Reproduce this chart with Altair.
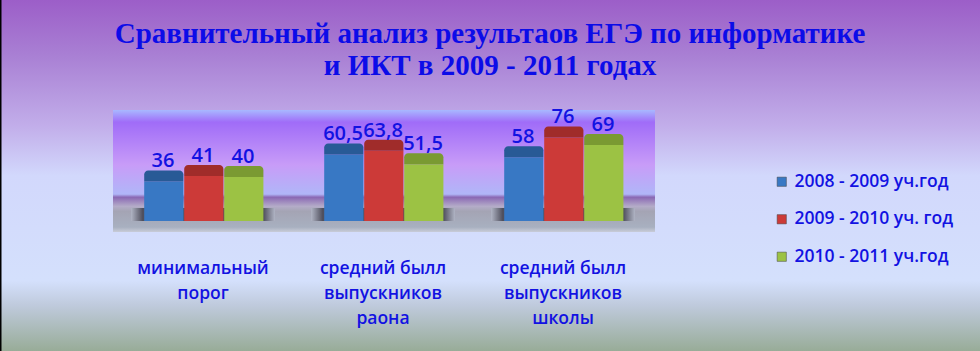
import altair as alt
import pandas as pd

categories = ["минимальный\nпорог", "средний былл\nвыпускников\nраона", "средний былл\nвыпускников\nшколы"]
series = ["2008 - 2009 уч.год", "2009 - 2010 уч. год", "2010 - 2011 уч.год"]
values_2009 = [36, 60.5, 58]
values_2010 = [41, 63.8, 76]
values_2011 = [40, 51.5, 69]
front_colors = ["#3878c4", "#cc3a38", "#9cc244"]
cap_colors = ["#285a96", "#a02c2a", "#7a9a32"]
title_lines = ["Сравнительный анализ результаов ЕГЭ по информатике", "и ИКТ в 2009 - 2011 годах"]

rows = []
for s, vals, cc in zip(series, [values_2009, values_2010, values_2011], cap_colors):
    for c, v in zip(categories, vals):
        rows.append({"cat": c, "series": s, "value": v, "cap": cc})
df = pd.DataFrame(rows)
one = pd.DataFrame({"k": [0]})
cats_df = pd.DataFrame({"cat": categories})

W, H = 540, 110
PAD = {"left": 113, "top": 111, "right": 980 - 113 - W, "bottom": 351 - 111 - H}

BLUE = "#1212e2"

x_enc = alt.X("cat:N", sort=categories,
              scale=alt.Scale(domain=categories, paddingInner=1/3, paddingOuter=1/6),
              axis=alt.Axis(title=None, domain=False, ticks=False, labelAngle=0, zindex=2,
                            labelExpr="split(datum.label, '\\n')",
                            labelFont="Open Sans", labelFontSize=17.5, labelFontWeight=600,
                            labelColor=BLUE, labelLineHeight=25, labelPadding=47,
                            labelBaseline="middle", labelLimit=0))
y_scale = alt.Scale(domain=[0, 100], nice=False)
xoff = alt.XOffset("series:N", sort=series, scale=alt.Scale(domain=series, paddingInner=0, paddingOuter=0))

bg = alt.Chart(one).mark_rect(fill=alt.Gradient(
    gradient="linear", x1=0, x2=0, y1=0, y2=1,
    stops=[alt.GradientStop(color="#9c5ec8", offset=0),
           alt.GradientStop(color="#a980d4", offset=0.16),
           alt.GradientStop(color="#c2aeea", offset=0.36),
           alt.GradientStop(color="#d2d8fc", offset=0.5),
           alt.GradientStop(color="#d4e0fc", offset=0.8),
           alt.GradientStop(color="#bfcadc", offset=0.87),
           alt.GradientStop(color="#98ac98", offset=1)])).encode(
    x=alt.value(-PAD["left"]), x2=alt.value(W + PAD["right"]),
    y=alt.value(-PAD["top"]), y2=alt.value(H + PAD["bottom"]))

border = alt.Chart(one).mark_rect(fill="#000000").encode(
    x=alt.value(-PAD["left"]), x2=alt.value(-PAD["left"] + 1.5),
    y=alt.value(-PAD["top"]), y2=alt.value(H + PAD["bottom"]))

wall = alt.Chart(one).mark_rect(fill=alt.Gradient(
    gradient="linear", x1=0, x2=0, y1=0, y2=1,
    stops=[alt.GradientStop(color="#a8b8ff", offset=0),
           alt.GradientStop(color="#a06cf8", offset=0.1),
           alt.GradientStop(color="#c89cf8", offset=0.45),
           alt.GradientStop(color="#b0b6f8", offset=0.69),
           alt.GradientStop(color="#8a68b4", offset=0.715),
           alt.GradientStop(color="#b4acc8", offset=0.79),
           alt.GradientStop(color="#a4a4b4", offset=0.83),
           alt.GradientStop(color="#a8b0c0", offset=0.96),
           alt.GradientStop(color="#c8ccd8", offset=1)])).encode(
    x=alt.value(0), x2=alt.value(W + 2), y=alt.value(-1), y2=alt.value(H + 11))

shadow = alt.Chart(cats_df).mark_bar(width=alt.RelativeBandSize(1.2), fill=alt.Gradient(
    gradient="linear", x1=0, x2=1, y1=0, y2=0,
    stops=[alt.GradientStop(color="#b0b4c4", offset=0),
           alt.GradientStop(color="#50505e", offset=0.08),
           alt.GradientStop(color="#50505e", offset=0.92),
           alt.GradientStop(color="#b0b4c4", offset=1)])).encode(
    x=x_enc, y=alt.value(H - 13), y2=alt.value(H))

base = alt.Chart(df)

front = base.mark_bar(width=alt.RelativeBandSize(0.98)).encode(
    x=x_enc, xOffset=xoff,
    y=alt.Y("value:Q", scale=y_scale, axis=None),
    color=alt.Color("series:N", sort=series,
                    scale=alt.Scale(domain=series, range=front_colors),
                    legend=alt.Legend(title=None, orient="none", legendX=660, legendY=62,
                                      symbolType="square", symbolSize=85,
                                      symbolStrokeColor="#404040", symbolStrokeWidth=0.5,
                                      labelFont="Open Sans", labelFontSize=17.5, labelFontWeight=600,
                                      labelColor=BLUE, rowPadding=18.5, labelLimit=0,
                                      labelOffset=4, zindex=2)))

caps = base.transform_calculate(top="datum.value + 10").mark_bar(
    width=alt.RelativeBandSize(0.98), cornerRadiusTopLeft=4, cornerRadiusTopRight=4).encode(
    x=x_enc, xOffset=xoff,
    y=alt.Y("value:Q", scale=y_scale),
    y2="top:Q",
    color=alt.Color("cap:N", scale=None))

labels = base.transform_calculate(
    top="datum.value + 10",
    txt="replace(toString(datum.value), '.', ',')").mark_text(
    font="Open Sans", fontSize=20, fontWeight=600, color=BLUE, baseline="alphabetic", dy=-3).encode(
    x=x_enc, xOffset=xoff,
    y=alt.Y("top:Q", scale=y_scale),
    text="txt:N")

chart = alt.layer(bg, border, wall, shadow, front, caps, labels).properties(
    width=W, height=H,
    title=alt.TitleParams(text=title_lines, font="Liberation Serif", fontSize=29, fontWeight="bold",
                          color="#0c0ce8", anchor="middle", dx=107, offset=-81, lineHeight=32,
                          zindex=2),
    padding=PAD, autosize=alt.AutoSizeParams(type="none"),
).configure_view(stroke=None)

chart.save("out.html", embed_options={"renderer": "svg", "actions": False})
